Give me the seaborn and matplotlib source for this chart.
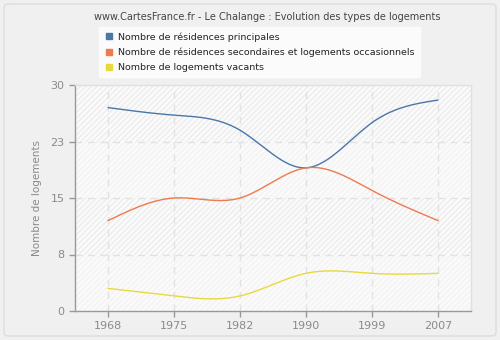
import numpy as np
import pandas as pd
import matplotlib
matplotlib.use("Agg")
import matplotlib.pyplot as plt
from matplotlib.lines import Line2D
from matplotlib.patches import FancyBboxPatch
import seaborn as sns

years = ["1968", "1975", "1982", "1990", "1999", "2007"]
principales = [27, 26, 24, 19, 25, 28]
secondaires = [12, 15, 15, 19, 16, 12]
vacants = [3, 2, 2, 5, 5, 5]
series_names = ["Nombre de résidences principales",
                "Nombre de résidences secondaires et logements occasionnels",
                "Nombre de logements vacants"]
colors = ["#4a76a8", "#ee7a4e", "#e6da3c"]
yticks = [0, 7.5, 15, 22.5, 30]
ytick_labels = ["0", "8", "15", "23", "30"]


def natural_spline(x, y, n=200):
    x = np.asarray(x, float); y = np.asarray(y, float)
    k = len(x)
    h = np.diff(x)
    A = np.zeros((k, k)); b = np.zeros(k)
    A[0, 0] = 1; A[-1, -1] = 1
    for i in range(1, k - 1):
        A[i, i - 1] = h[i - 1]; A[i, i] = 2 * (h[i - 1] + h[i]); A[i, i + 1] = h[i]
        b[i] = 3 * ((y[i + 1] - y[i]) / h[i] - (y[i] - y[i - 1]) / h[i - 1])
    c = np.linalg.solve(A, b)
    xs = np.linspace(x[0], x[-1], n)
    ys = np.empty_like(xs)
    for j, xv in enumerate(xs):
        i = min(np.searchsorted(x, xv, side="right") - 1, k - 2)
        bi = (y[i + 1] - y[i]) / h[i] - h[i] * (2 * c[i] + c[i + 1]) / 3
        di = (c[i + 1] - c[i]) / (3 * h[i])
        t = xv - x[i]
        ys[j] = y[i] + bi * t + c[i] * t ** 2 + di * t ** 3
    return xs, ys


sns.set_style("white")
plt.rcParams["font.family"] = ["DejaVu Sans"]
plt.rcParams["hatch.linewidth"] = 0.6

fig = plt.figure(figsize=(5, 3.4), dpi=100)
fig.patch.set_facecolor("#f0f0f0")
fig.patches.append(FancyBboxPatch((4 / 500, 4 / 340), 492 / 500, 332 / 340,
                                  boxstyle="round,pad=0,rounding_size=0.01",
                                  transform=fig.transFigure, facecolor="#f0f0f0",
                                  edgecolor="#dcdcdc", linewidth=1.0, zorder=-10))

ax = fig.add_axes([75 / 500, 29 / 340, 396 / 500, 226 / 340])
ax.set_facecolor("#fafafa")

# background bands
for lo, hi, ec in [(22.5, 30, "#e6e6e6"), (15, 22.5, "#f0f0f0"),
                   (7.5, 15, "#e6e6e6"), (0, 7.5, "#f0f0f0")]:
    ax.axhspan(lo, hi, facecolor="#fafafa", edgecolor=ec, hatch="//////",
               linewidth=0, zorder=0)

xi = np.arange(len(years))
rows = []
for name, vals in zip(series_names, [principales, secondaires, vacants]):
    xs, ys = natural_spline(xi, vals)
    rows.append(pd.DataFrame({"x": xs, "y": ys, "serie": name}))
df = pd.concat(rows, ignore_index=True)
sns.lineplot(data=df, x="x", y="y", hue="serie", palette=colors,
             hue_order=series_names, linewidth=1.0, legend=False, ax=ax, zorder=3,
             sort=False)

ax.set_xlim(-0.5, 5.5)
ax.set_ylim(0, 30)
ax.set_xticks(xi)
ax.set_xticklabels(years)
ax.set_yticks(yticks)
ax.set_yticklabels(ytick_labels)
for v in yticks[1:-1]:
    ax.axhline(v, color="#e2e2e2", linestyle=(0, (5, 4)), linewidth=1.0, zorder=1)
for v in xi:
    ax.axvline(v, color="#e2e2e2", linestyle=(0, (5, 4)), linewidth=1.0, zorder=1)

ax.tick_params(axis="both", colors="#999999", labelcolor="#8a8a8a", labelsize=8,
               length=4, width=1, direction="out", left=True, bottom=True)
for s in ["left", "bottom"]:
    ax.spines[s].set_color("#999999")
    ax.spines[s].set_linewidth(1.0)
for s in ["top", "right"]:
    ax.spines[s].set_color("#e0e0e0")
    ax.spines[s].set_linewidth(1.0)
ax.set_xlabel("")
ax.set_ylabel("Nombre de logements", color="#8a8a8a", fontsize=7.5, labelpad=6)

fig.text(267 / 500, 1 - 17 / 340, "www.CartesFrance.fr - Le Chalange : Evolution des types de logements",
         ha="center", va="center", fontsize=7.0, color="#444444")

handles = [Line2D([], [], marker="s", linestyle="none", markersize=4.5,
                  markerfacecolor=c, markeredgecolor=c) for c in colors]
leg = fig.legend(handles, series_names, loc="upper left",
                 bbox_to_anchor=(99 / 500, 1 - 27 / 340), frameon=True,
                 fontsize=6.8, handletextpad=0.5, labelspacing=0.62,
                 borderpad=0.55, handlelength=1.0, fancybox=True,
                 borderaxespad=0)
leg.get_frame().set_facecolor("white")
leg.get_frame().set_edgecolor("white")
for t in leg.get_texts():
    t.set_color("#222222")

fig.savefig("out.png", dpi=100, facecolor=fig.get_facecolor())
